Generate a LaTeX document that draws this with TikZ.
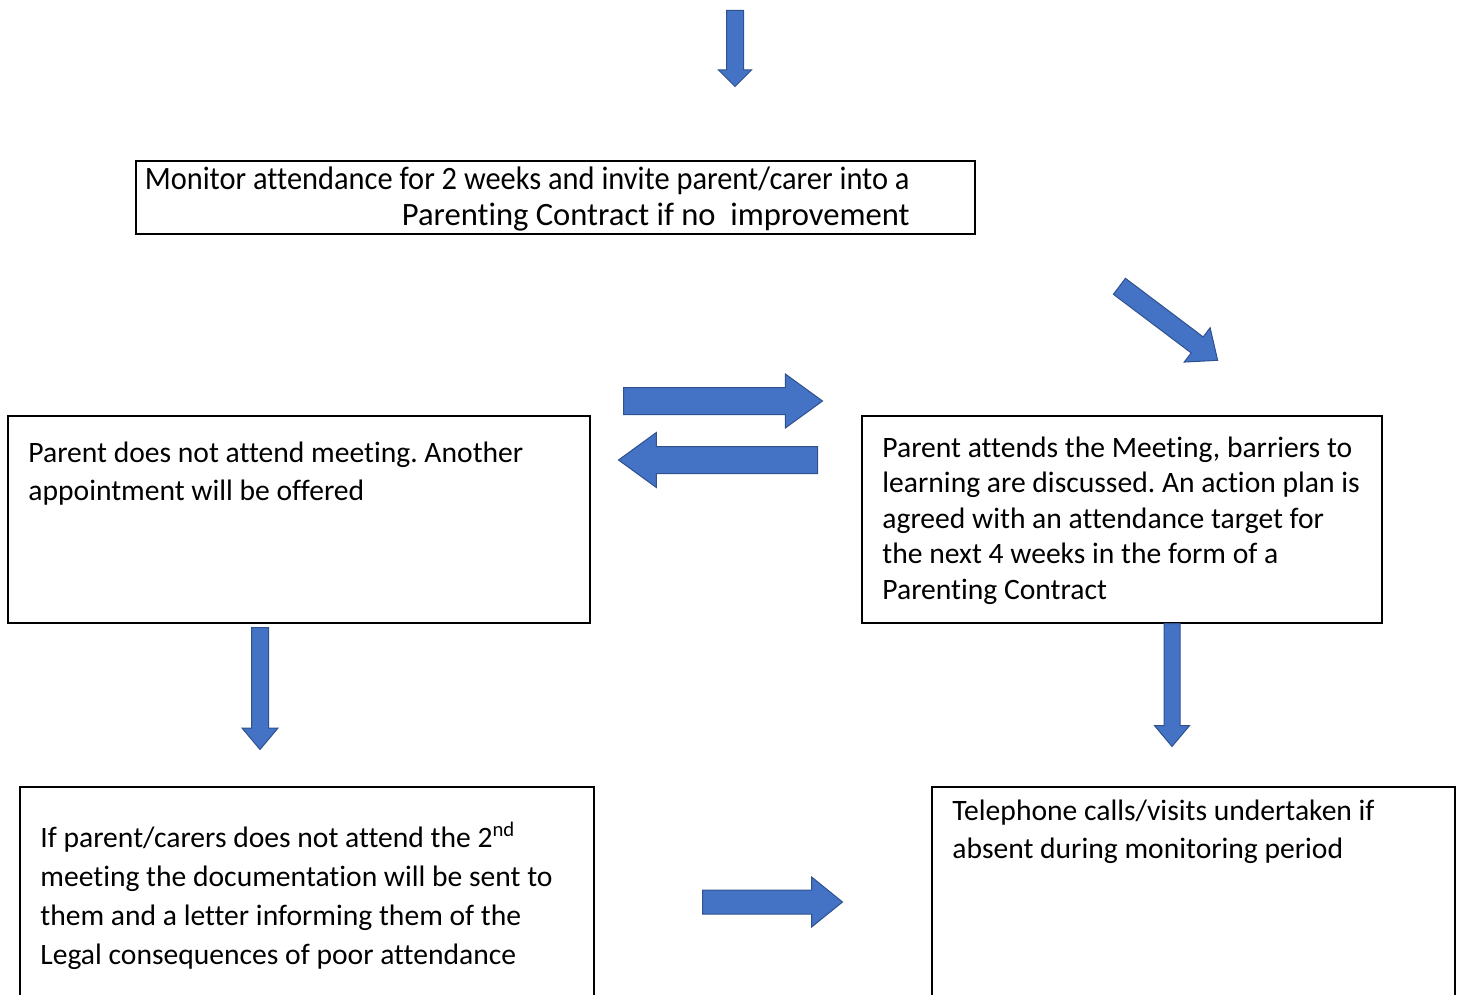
\documentclass[tikz,border=0pt]{standalone}
\usepackage{fontspec}
\setmainfont{Carlito}[Ligatures={NoCommon}]
\frenchspacing
\usetikzlibrary{shapes.arrows}
\definecolor{arrowblue}{HTML}{4472C4}
\definecolor{arrowedge}{HTML}{2F528F}
\tikzset{
  box/.style={draw, line width=0.8pt, anchor=north west, inner sep=0pt, outer sep=0pt},
  boxtext/.style={inner sep=0pt, anchor=base west, align=left,
    font=\fontsize{14.8}{17.75}\selectfont},
  blockarrow/.style={single arrow, fill=arrowblue, draw=arrowedge, line width=0.5pt,
    inner xsep=0pt, text height=0pt, text depth=0pt, minimum width=0pt, anchor=tail},
}

\begin{document}
\begin{tikzpicture}[x=0.5pt, y=-0.5pt]

\useasboundingbox (0,0) rectangle (1462,995); %% page size

%% boxes (text placed at the baseline of its last line)
\node[box, minimum width=419.5pt, minimum height=36.5pt] (monitor) at (136,161) {};
\node[boxtext, anchor=base east, align=right, font=\fontsize{16.3}{17.5}\selectfont]
(monitortext) at (910,225)
{{\addfontfeature{FakeStretch=0.933}Monitor attendance for 2 weeks and invite parent/carer into a}\\
Parenting Contract if no\ \ improvement};

\node[box, minimum width=291pt, minimum height=103.5pt] (absent) at (8,416) {};
\node[boxtext, font=\fontsize{14.8}{19}\selectfont] (absenttext) at (28,500)
{Parent does not attend meeting. Another\\
appointment will be offered};

\node[box, minimum width=260pt, minimum height=103.5pt] (attends) at (862,416) {};
\node[boxtext] (attendstext) at (882,599)
{Parent attends the Meeting, barriers to\\
learning are discussed. An action plan is\\
agreed with an attendance target for\\
the next 4 weeks in the form of a\\
Parenting Contract};

\node[box, minimum width=287pt, minimum height=110pt] (second) at (20,787) {};
\node[boxtext, font=\fontsize{14.8}{19.5}\selectfont] (secondtext) at (40,964)
{If parent/carers does not attend the 2\textsuperscript{nd}\\
meeting the documentation will be sent to\\
them and a letter informing them of the\\
Legal consequences of poor attendance};

\node[box, minimum width=261.5pt, minimum height=110pt] (phone) at (932,787) {};
\node[boxtext, font=\fontsize{14.8}{19}\selectfont] (phonetext) at (952,858)
{Telephone calls/visits undertaken if\\
absent during monitoring period};

%% block arrows
\node[blockarrow, rotate=-90, minimum height=38pt, inner ysep=4pt,
  single arrow head extend=4pt, single arrow tip angle=90] (intoarrow) at (735,10) {};
\node[blockarrow, minimum height=99.5pt, inner ysep=6.5pt,
  single arrow head extend=6.75pt, single arrow tip angle=72] (toattends) at (623,401) {};
\node[blockarrow, rotate=180, minimum height=99.5pt, inner ysep=6.5pt,
  single arrow head extend=7pt, single arrow tip angle=72] (toabsent) at (818,460) {};
\node[blockarrow, rotate=-37, minimum height=61.5pt, inner ysep=4.75pt,
  single arrow head extend=5.75pt, single arrow tip angle=80] (diagarrow) at (1119,286) {};
\node[blockarrow, rotate=-90, minimum height=61pt, inner ysep=4pt,
  single arrow head extend=4.75pt, single arrow tip angle=80] (absentdown) at (260,627) {};
\node[blockarrow, rotate=-90, minimum height=61.5pt, inner ysep=3.75pt,
  single arrow head extend=4.75pt, single arrow tip angle=80] (attendsdown) at (1172,623) {};
\node[blockarrow, minimum height=70pt, inner ysep=5.75pt,
  single arrow head extend=6.5pt, single arrow tip angle=78] (tophone) at (702,902) {};

\end{tikzpicture}
\end{document}
